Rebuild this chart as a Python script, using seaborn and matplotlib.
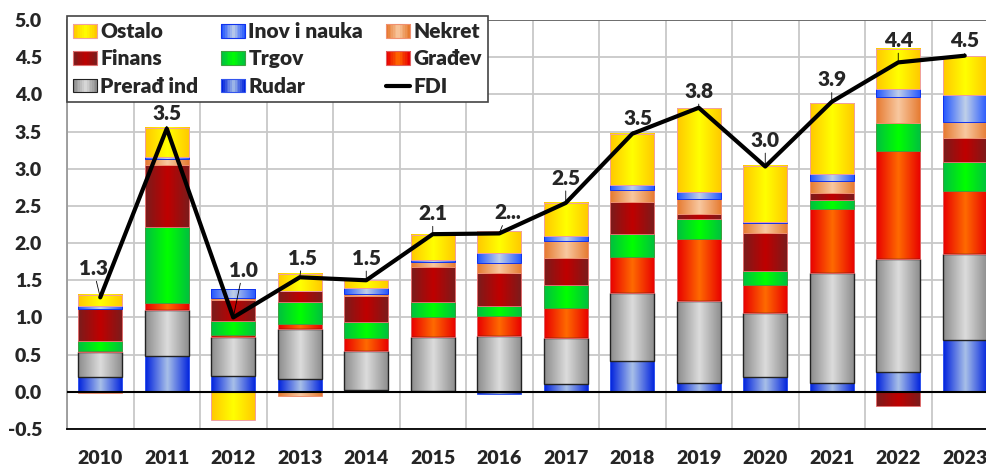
import numpy as np
import matplotlib
matplotlib.use("Agg")
import matplotlib.pyplot as plt
import seaborn as sns
from matplotlib.patches import Rectangle
from matplotlib.legend_handler import HandlerBase
from matplotlib.colors import to_rgb

# data (EUR bn)
years = [str(y) for y in range(2010, 2024)]
rudar   = [0.20, 0.475, 0.21, 0.17, 0.02, 0.01, -0.03, 0.11, 0.415, 0.115, 0.205, 0.115, 0.26, 0.70]
prerad  = [0.33, 0.63, 0.53, 0.68, 0.535, 0.725, 0.745, 0.62, 0.92, 1.10, 0.855, 1.48, 1.53, 1.15]
gradjev = [0.02, 0.09, 0.02, 0.06, 0.165, 0.27, 0.27, 0.40, 0.475, 0.84, 0.38, 0.865, 1.45, 0.85]
trgov   = [0.14, 1.02, 0.19, 0.30, 0.215, 0.20, 0.135, 0.305, 0.315, 0.27, 0.185, 0.12, 0.38, 0.395]
finans  = [0.43, 0.84, 0.29, 0.145, 0.36, 0.48, 0.45, 0.37, 0.425, 0.07, 0.515, 0.09, -0.19, 0.32]
nekret  = [-0.02, 0.07, 0.02, -0.05, 0.02, 0.065, 0.135, 0.22, 0.165, 0.20, 0.13, 0.16, 0.34, 0.215]
inov    = [0.03, 0.03, 0.12, 0.0, 0.085, 0.02, 0.135, 0.07, 0.06, 0.09, 0.01, 0.10, 0.11, 0.36]
ostalo  = [0.15, 0.39, -0.375, 0.235, 0.10, 0.34, 0.29, 0.45, 0.69, 1.125, 0.76, 0.95, 0.54, 0.52]
fdi     = [1.27, 3.54, 1.00, 1.54, 1.50, 2.12, 2.13, 2.54, 3.47, 3.82, 3.03, 3.90, 4.43, 4.52]
fdi_labels = ["1.3", "3.5", "1.0", "1.5", "1.5", "2.1", "2...", "2.5", "3.5", "3.8", "3.0", "3.9", "4.4", "4.5"]

# name, values, edge colour of gradient, centre colour, outline
series = [
    ("Rudar", rudar, "#0022dd", "#a8c0e8", "#3355ee"),
    ("Prerađ ind", prerad, "#8c8c8c", "#dcdcdc", "#222222"),
    ("Građev", gradjev, "#e80000", "#ff6a00", "#e06060"),
    ("Trgov", trgov, "#00c040", "#00ff00", "#40a040"),
    ("Finans", finans, "#7a1c1c", "#c00000", "#e07070"),
    ("Nekret", nekret, "#e67a30", "#f8c8a0", "#f09070"),
    ("Inov i nauka", inov, "#2255ff", "#c0d0e8", "#1133ee"),
    ("Ostalo", ostalo, "#ffc800", "#ffff00", "#f0a0a0"),
]

# label offsets in points (dx, dy), as placed in the original
label_off = [(-5, 14), (0, 4), (7, 27), (2, 7), (0, 9), (0, 8), (6, 8),
             (0, 11), (4, 4), (0, 5), (0, 12), (0, 9), (0, 9), (0, 4)]


def grad_row(edge, center, n=64):
    u = np.linspace(0, 1, n)
    t = 1 - np.abs(2 * u - 1)
    e, c = np.array(to_rgb(edge)), np.array(to_rgb(center))
    return (e[None, :] * (1 - t[:, None]) + c[None, :] * t[:, None])[None, :, :]


class GradHandler(HandlerBase):
    def __init__(self, edge, center, ec):
        super().__init__()
        self.edge, self.center, self.ec = edge, center, ec

    def create_artists(self, legend, orig_handle, xdescent, ydescent,
                       width, height, fontsize, trans):
        row = grad_row(self.edge, self.center, 14)[0]
        arts = []
        n = len(row)
        for k, col in enumerate(row):
            r = Rectangle((-xdescent + k * width / n, -ydescent), width / n + 0.3,
                          height, facecolor=col, edgecolor="none", transform=trans)
            arts.append(r)
        arts.append(Rectangle((-xdescent, -ydescent), width, height, facecolor="none",
                              edgecolor=self.ec, lw=0.8, transform=trans))
        return arts


sns.set_style("white")
plt.rcParams["font.family"] = ["Lato", "DejaVu Sans"]
plt.rcParams["font.weight"] = "heavy"
fw = "heavy"

fig = plt.figure(figsize=(9.86, 4.73), dpi=100)
# the plot area runs a little past the right edge of the picture, as in the original
ax = fig.add_axes([67 / 986, 44 / 473, 931 / 986, 409 / 473])

x = np.arange(len(years))
w = 0.667
pos_b = np.zeros(len(years))
neg_b = np.zeros(len(years))
handles = {}
for name, vals, edge, center, ec in series:
    vals = np.array(vals)
    bottoms = np.where(vals >= 0, pos_b, neg_b)
    img = grad_row(edge, center)
    for xi, b, v in zip(x, bottoms, vals):
        if v == 0:
            continue
        ax.imshow(img, extent=[xi - w / 2, xi + w / 2, b, b + v], aspect="auto",
                  interpolation="bilinear", zorder=3)
    ax.bar(x, vals, width=w, bottom=bottoms, color="none", edgecolor=ec,
           linewidth=1.0 if name == "Prerađ ind" else 0.7, zorder=4)
    pos_b += np.where(vals >= 0, vals, 0)
    neg_b += np.where(vals < 0, vals, 0)
    handles[name] = (Rectangle((0, 0), 1, 1), GradHandler(edge, center, ec))

sns.lineplot(x=x, y=fdi, color="black", lw=3, ax=ax, zorder=6, label="FDI", legend=False)

for xi, v, lab, (dx, dy) in zip(x, fdi, fdi_labels, label_off):
    ax.annotate(lab, (xi, v), xytext=(dx, dy), textcoords="offset points",
                ha="center", va="bottom", fontsize=15, fontweight=fw, zorder=7,
                arrowprops=dict(arrowstyle="-", lw=0.6, color="black",
                                shrinkA=0, shrinkB=0))

ax.axhline(0, color="black", lw=1.5, zorder=5)

ax.set_xlim(-0.5, len(years) - 0.5)
ax.set_ylim(-0.5, 5.0)
ticks = np.arange(-0.5, 5.01, 0.5)
ax.set_yticks(ticks)
ax.set_yticklabels([f"{t:.1f}" for t in ticks], fontsize=14, fontweight=fw)
ax.set_xticks(x)
ax.set_xticklabels(years, fontsize=14, fontweight=fw)
ax.set_xticks(np.arange(-0.5, len(years), 1), minor=True)
ax.tick_params(axis="x", which="both", length=0, pad=15)
ax.tick_params(axis="y", length=7, color="#999999", width=1, pad=11, direction="out")
ax.yaxis.grid(True, color="#c8c8c8", lw=1.3, zorder=0)
ax.xaxis.grid(True, which="minor", color="#c8c8c8", lw=1.3, zorder=0)
ax.xaxis.grid(False, which="major")
ax.set_axisbelow(True)
for s in ["top", "right"]:
    ax.spines[s].set_visible(False)
ax.spines["left"].set_color("#999999")
ax.spines["left"].set_linewidth(1.3)
ax.spines["bottom"].set_color("black")
ax.spines["bottom"].set_linewidth(1.3)
ax.axhline(5.0, color="#666666", lw=1.3, zorder=1)

order = ["Ostalo", "Finans", "Prerađ ind", "Inov i nauka", "Trgov", "Rudar", "Nekret", "Građev"]
hs = [handles[n][0] for n in order]
hmap = {handles[n][0]: handles[n][1] for n in order}
fdi_handle = plt.Line2D([], [], color="black", lw=3)
leg = ax.legend(hs + [fdi_handle], order + ["FDI"], handler_map=hmap, ncol=3,
                loc="upper left", bbox_to_anchor=(0, 1.01), frameon=True, fancybox=False,
                framealpha=1, edgecolor="#444444", borderpad=0.3, labelspacing=0.4,
                handlelength=1.15, handleheight=0.65, handletextpad=0.15,
                columnspacing=1.1, borderaxespad=0,
                prop={"size": 15, "weight": fw})
leg.set_zorder(10)
leg.get_frame().set_linewidth(1.2)

fig.savefig("out.png", dpi=100)
